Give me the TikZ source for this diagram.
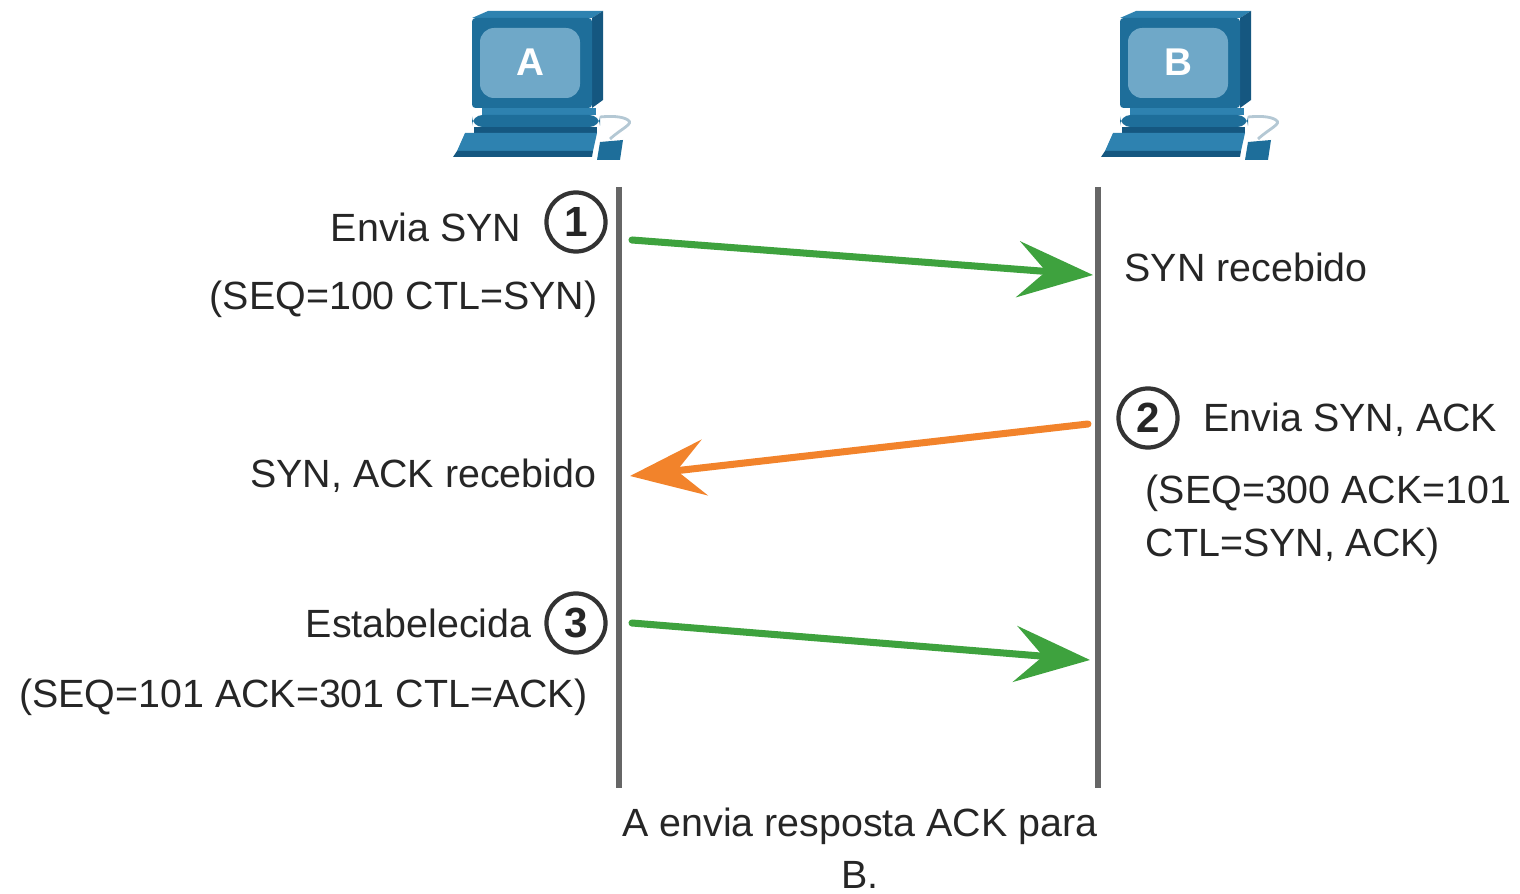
\documentclass[tikz,border=0pt]{standalone}
\usepackage{fontspec}
\setmainfont{Liberation Sans}
\usetikzlibrary{arrows.meta, positioning}

\definecolor{synGreen}{HTML}{3EA23E}
\definecolor{ackOrange}{HTML}{F2832B}
\definecolor{pcFront}{HTML}{1E6E9A}
\definecolor{pcTop}{HTML}{2E82B0}
\definecolor{pcSide}{HTML}{155780}
\definecolor{pcScreen}{HTML}{6FA8C8}
\definecolor{pcCord}{HTML}{B4C8D4}

\tikzset{
  pics/computer/.style={code={
    % monitor
    \fill[pcTop] (-58,-44) -- (-42,-51) -- (73,-51) -- (62,-44) -- cycle;
    \fill[pcSide] (62,-44) -- (73,-51) -- (73,38) -- (62,46) -- cycle;
    \fill[pcFront, rounded corners=1pt] (-58,-44) rectangle (62,46);
    \fill[pcScreen, rounded corners=4pt] (-50,-34) rectangle (50,36);
    \node[font=\fontsize{11}{11}\selectfont\bfseries, text=white] (-letter) at (0,0) {#1};
    % stand and base
    \fill[pcTop] (-48,46) rectangle (66,53);
    \fill[pcFront, rounded corners=3pt] (-58,53) rectangle (70,65);
    \fill[pcSide] (-56,65) rectangle (67,71);
    % keyboard
    \fill[pcTop] (-65,71) -- (67,71) -- (63,89) -- (-73,89) -- cycle;
    \fill[pcSide] (-73,89) -- (63,89) -- (62,95) -- (-77,95) -- cycle;
    % mouse
    \draw[pcCord, line width=0.8pt] (80,77) .. controls (92,66) and (104,62) .. (98,58)
      .. controls (92,54) and (80,54) .. (70,55);
    \fill[pcFront] (70,80) -- (93,78) -- (90,98) -- (67,98) -- cycle;
  }}
}

\begin{document}
\begin{tikzpicture}[
    x=0.01cm, y=-0.01cm,
    txt/.style={font=\fontsize{11.2}{14.8}\selectfont, text=black!85, inner sep=0pt},
    stepnum/.style={circle, draw=black!80, line width=1.2pt, minimum size=5.9mm, inner sep=0pt,
      font=\fontsize{12}{12}\selectfont\bfseries, text=black!85},
    lifeline/.style={draw=black!60, line width=1.5pt},
    msg/.style={line width=2pt, line cap=round, -{Stealth[length=7.5mm, width=5.6mm, inset=2.8mm]}}
]
\useasboundingbox (0,0) rectangle (1520,894);

\pic (pcA) at (530,62) {computer=A};
\pic (pcB) at (1178,62) {computer=B};

% lifelines
\coordinate (aTop) at (619,187);
\coordinate (aBot) at (619,788);
\coordinate (bTop) at (1098,187);
\coordinate (bBot) at (1098,788);
\draw[lifeline] (aTop) -- (aBot);
\draw[lifeline] (bTop) -- (bBot);

% step 1
\node[stepnum] (step1) at (576,222) {1};
\node[txt, anchor=mid east] (synSend) at (522,232) {Envia SYN};
\node[txt, anchor=mid east] (synSeq) at (598,300) {(SEQ=100 CTL=SYN)};
\node[txt, anchor=mid west] (synRecv) at (1124,272) {SYN recebido};

% step 2
\node[stepnum] (step2) at (1148,418) {2};
\node[txt, anchor=mid west] (ackSend) at (1203,422) {Envia SYN, ACK};
\node[txt, anchor=mid west] (ackSeq) at (1145,494) {(SEQ=300 ACK=101};
\node[txt, anchor=mid west] (ackCtl) at (1145,547) {CTL=SYN, ACK)};
\node[txt, anchor=mid east] (ackRecv) at (597,478) {SYN, ACK recebido};

% step 3
\node[stepnum] (step3) at (576,623) {3};
\node[txt, anchor=mid east] (estab) at (532,628) {Estabelecida};
\node[txt, anchor=mid east] (estabSeq) at (588,698) {(SEQ=101 ACK=301 CTL=ACK)};

\node[txt, align=center] (caption) at (860,848) {A envia resposta ACK para\\B.};

% messages
\coordinate (synOut) at (632,240);
\coordinate (synIn) at (1093,275);
\coordinate (ackOut) at (1088,424);
\coordinate (ackIn) at (630,476);
\coordinate (estOut) at (632,623);
\coordinate (estIn) at (1090,660);
\draw[msg, synGreen] (synOut) -- (synIn);
\draw[msg, ackOrange] (ackOut) -- (ackIn);
\draw[msg, synGreen] (estOut) -- (estIn);

\end{tikzpicture}
\end{document}
